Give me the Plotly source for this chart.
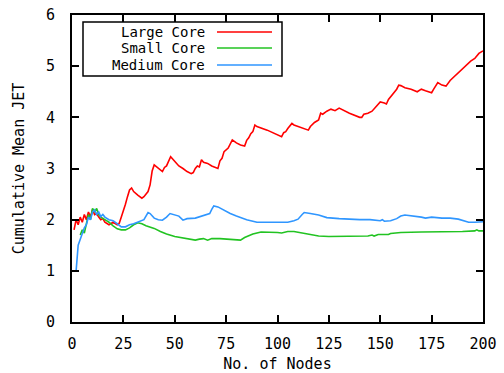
import plotly.graph_objects as go

# ---------------- data ----------------
large_x = [1,2,3,4,5,6,7,8,9,10,11,12,13,14,15,16,18,20,22,23,24,25,26,27,28,29,30,32,34,35,36,37,38,39,40,42,44,45,46,48,50,52,54,56,58,59,60,61,62,63,64,66,68,70,71,72,73,74,76,78,80,82,84,85,86,87,88,89,90,95,100,102,103,104,105,106,107,108,110,112,114,115,116,118,120,121,122,124,126,128,130,135,140,141,142,144,146,148,150,152,153,154,156,158,159,160,162,165,168,170,172,175,176,178,180,182,184,186,188,190,192,194,196,198,200]
large_y = [1.8,2.0,1.9,2.05,1.95,2.1,2.0,2.15,2.05,2.2,2.1,2.12,2.05,2.0,2.02,1.95,1.9,1.95,1.9,1.93,2.05,2.16,2.3,2.45,2.58,2.62,2.55,2.48,2.42,2.45,2.5,2.55,2.68,2.95,3.07,3.0,2.94,3.02,3.05,3.23,3.15,3.05,3.0,2.94,2.9,2.92,3.0,3.05,3.03,3.17,3.12,3.1,3.05,3.02,3.0,3.15,3.2,3.33,3.4,3.56,3.5,3.46,3.44,3.55,3.6,3.68,3.72,3.85,3.82,3.75,3.66,3.62,3.7,3.72,3.78,3.83,3.88,3.85,3.82,3.79,3.77,3.75,3.82,3.9,3.95,4.08,4.06,4.12,4.16,4.13,4.18,4.08,4.0,4.0,4.06,4.08,4.12,4.2,4.3,4.28,4.26,4.35,4.45,4.55,4.63,4.62,4.58,4.55,4.5,4.55,4.52,4.48,4.55,4.68,4.63,4.61,4.72,4.8,4.88,4.95,5.02,5.1,5.15,5.25,5.3]

small_x = [4,5,6,7,8,9,10,11,12,13,14,16,18,20,22,24,26,28,30,32,34,36,38,40,43,46,50,55,58,60,62,64,66,68,72,76,80,82,84,88,92,96,100,102,105,108,112,116,120,125,130,140,144,146,147,149,154,155,160,170,180,185,190,196,197,198,200]
small_y = [1.7,1.8,1.74,1.95,2.1,2.0,2.22,2.15,2.22,2.1,2.05,2.0,1.95,1.88,1.82,1.8,1.8,1.84,1.9,1.94,1.92,1.88,1.86,1.83,1.77,1.72,1.67,1.64,1.62,1.6,1.62,1.63,1.6,1.63,1.63,1.62,1.6,1.6,1.65,1.72,1.76,1.76,1.75,1.74,1.77,1.77,1.74,1.71,1.68,1.67,1.67,1.68,1.68,1.7,1.68,1.71,1.71,1.73,1.75,1.76,1.76,1.76,1.77,1.78,1.8,1.78,1.78]

medium_x = [1,2,3,4,5,6,7,8,9,10,11,12,13,14,15,16,18,20,22,24,26,28,30,33,35,37,38,40,42,44,46,47.7,50,52,54,56,60,64,67,68,69,71,74,77,80,85,90,100,105,108,110,112,113,116,120,124,126,130,140,145,150,151,152,155,158,160,162,165,170,172,175,180,184,188,190,193,196,198,200]
medium_y = [1.0,1.0,1.5,1.6,1.72,1.84,1.9,2.05,2.0,2.15,2.19,2.1,2.15,2.06,2.1,2.05,2.0,1.98,1.92,1.86,1.86,1.9,1.92,1.96,2.0,2.14,2.12,2.03,2.0,1.99,2.05,2.12,2.1,2.07,1.99,2.02,2.03,2.08,2.12,2.2,2.27,2.25,2.18,2.12,2.07,2.0,1.95,1.95,1.95,1.98,2.01,2.1,2.14,2.12,2.09,2.04,2.03,2.02,2.0,2.0,1.98,2.0,1.97,1.98,2.02,2.07,2.09,2.08,2.05,2.03,2.05,2.03,2.03,2.01,1.99,1.95,1.95,1.96,1.96]

series_names = ["Large Core", "Small Core", "Medium Core"]
series_colors = ["#ff0000", "#22c322", "#2f96ff"]

x_ticks = [0, 25, 50, 75, 100, 125, 150, 175, 200]
y_ticks = [0, 1, 2, 3, 4, 5, 6]

FONT = "DejaVu Sans Mono"

fig = go.Figure()
for xs, ys, name, col in zip([large_x, small_x, medium_x], [large_y, small_y, medium_y],
                             series_names, series_colors):
    fig.add_trace(go.Scatter(x=xs, y=ys, mode="lines", name=name,
                             line=dict(color=col, width=1.6), showlegend=False))

axis_common = dict(showline=True, linecolor="black", linewidth=2, mirror="allticks",
                   ticks="inside", ticklen=7, tickwidth=1.5, tickcolor="black",
                   showgrid=False, zeroline=False, automargin=False,
                   tickfont=dict(family=FONT, size=15, color="black"))

fig.update_xaxes(range=[0, 200], tickvals=x_ticks, ticktext=[str(v) for v in x_ticks],
                 title=dict(text="No. of Nodes", font=dict(family=FONT, size=15, color="black"), standoff=12),
                 ticklabelstandoff=7, **axis_common)
fig.update_yaxes(range=[0, 6], tickvals=y_ticks, ticktext=[str(v) for v in y_ticks],
                 title=dict(text="Cumulative Mean JET", font=dict(family=FONT, size=15, color="black"), standoff=18),
                 ticklabelstandoff=12, **axis_common)

# manual gnuplot-style legend (text on the left, sample on the right)
px0, px1, py0, py1 = 72, 483, 15, 322
def xp(p): return (p - px0) / (px1 - px0)
def yp(p): return (py1 - p) / (py1 - py0)

fig.add_shape(type="rect", xref="paper", yref="paper", x0=xp(83), x1=xp(282), y0=yp(76), y1=yp(22),
              line=dict(color="black", width=1.5), fillcolor="white", layer="above")
rows = [32, 48, 65]
for name, col, r in zip(series_names, series_colors, rows):
    fig.add_annotation(xref="paper", yref="paper", x=xp(206), y=yp(r), text=name, showarrow=False,
                       xanchor="right", yanchor="middle", borderpad=0,
                       font=dict(family=FONT, size=14, color="black"))
    fig.add_shape(type="line", xref="paper", yref="paper", x0=xp(217), x1=xp(272), y0=yp(r), y1=yp(r),
                  line=dict(color=col, width=1.6), layer="above")

fig.update_layout(width=504, height=373, margin=dict(l=72, r=21, t=15, b=51),
                  plot_bgcolor="white", paper_bgcolor="white", showlegend=False)

fig.write_html("out.html")
